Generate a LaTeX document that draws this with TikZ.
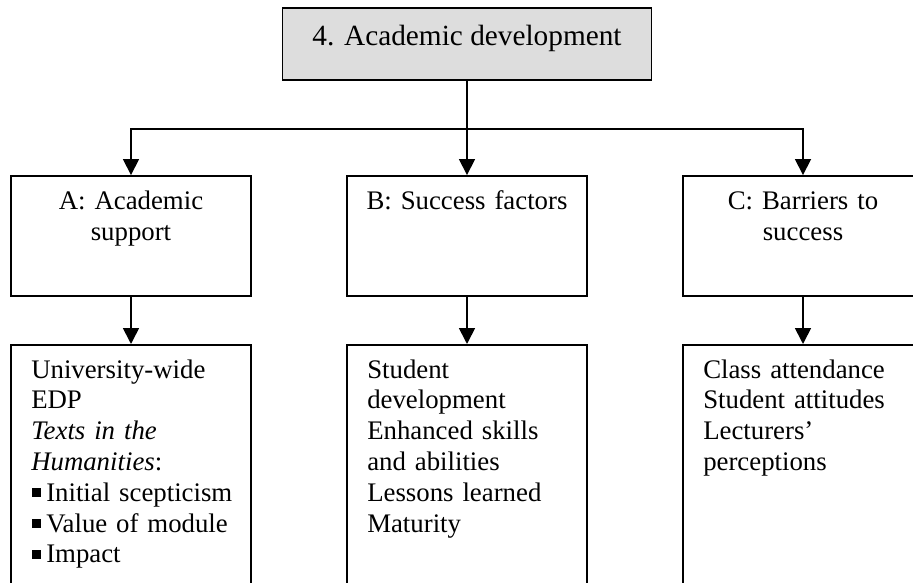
\documentclass[tikz,border=0pt]{standalone}
\usepackage{fontspec}
\setmainfont{Liberation Serif}
\usetikzlibrary{arrows.meta,positioning,calc}
\definecolor{headgray}{RGB}{221,221,221}
\newcommand{\sqbullet}{\hspace{1pt}\rule[4pt]{9pt}{9pt}\hspace{5pt}}

\begin{document}
\begin{tikzpicture}[x=1pt,y=-1pt,
    topbox/.style={draw, line width=1.9pt, fill=headgray, minimum width=369pt, minimum height=72pt, inner sep=0pt, text height=20pt, text depth=16pt, font=\fontsize{29.3}{33}\selectfont},
    box/.style={draw, line width=1.9pt, minimum width=240pt, minimum height=120pt, inner sep=0pt},
    listbox/.style={draw, line width=1.9pt, minimum width=240pt, minimum height=270pt, inner sep=0pt, anchor=north},
    boxtext/.style={text width=210pt, align=center, inner sep=0pt, font=\fontsize{26.8}{31.5}\selectfont},
    listtext/.style={text width=215pt, align=left, inner sep=0pt, font=\fontsize{26.8}{30.8}\selectfont},
    link/.style={line width=1.7pt, -{Triangle[length=16pt,width=16pt]}}]
    \path[use as bounding box, clip] (0,0) rectangle (913,583);

    % Main heading
    \node[topbox] (dev) at (467,44) {4. Academic development};
    \coordinate[below=48pt of dev.south] (split);

    % Themes
    \node[box] (supp) at (131,236) {};
    \node[box] (succ) at (467,236) {};
    \node[box] (barr) at (803,236) {};
    \node[boxtext, anchor=base] (supptext) at ([yshift=-34pt]supp.north) {A: Academic\\support};
    \node[boxtext, anchor=base] (succtext) at ([yshift=-34pt]succ.north) {B: Success factors};
    \node[boxtext, anchor=base] (barrtext) at ([yshift=-34pt]barr.north) {C: Barriers to\\success};

    % Sub-themes
    \node[listbox] (supplist) at (131,344) {};
    \node[listbox] (succlist) at (467,344) {};
    \node[listbox] (barrlist) at (803,344) {};
    \node[listtext, anchor=base west] (supplisttext) at ([xshift=21pt,yshift=-34pt]supplist.north west)
        {University-wide\\EDP\\\textit{Texts in the}\\\textit{Humanities}:\\\sqbullet Initial scepticism\\\sqbullet Value of module\\\sqbullet Impact};
    \node[listtext, anchor=base west] (succlisttext) at ([xshift=21pt,yshift=-34pt]succlist.north west)
        {Student\\development\\Enhanced skills\\and abilities\\Lessons learned\\Maturity};
    \node[listtext, anchor=base west] (barrlisttext) at ([xshift=21pt,yshift=-34pt]barrlist.north west)
        {Class attendance\\Student attitudes\\Lecturers’\\perceptions};

    % Connectors
    \draw[link] (dev.south) -- (succ.north);
    \draw[link] (split) -| (supp.north);
    \draw[link] (split) -| (barr.north);
    \draw[link] (supp.south) -- (supplist.north);
    \draw[link] (succ.south) -- (succlist.north);
    \draw[link] (barr.south) -- (barrlist.north);
\end{tikzpicture}
\end{document}
